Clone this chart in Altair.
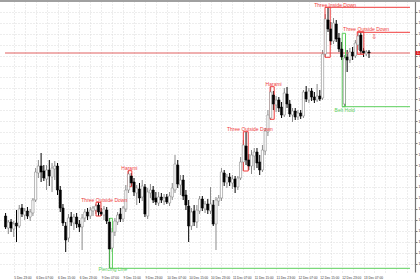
import altair as alt
import pandas as pd

# ---- hourly candles (price) ----
opens = [1.10920, 1.10860, 1.10890, 1.10855, 1.10885, 1.10870, 1.10960, 1.10925, 1.10945, 1.10915,
 1.10935, 1.11000, 1.11135, 1.11170, 1.11145, 1.11105, 1.11150, 1.11115, 1.11155, 1.11170,
 1.11050, 1.10960, 1.10870, 1.10810, 1.10915, 1.10885, 1.10915, 1.10880, 1.10865, 1.10910,
 1.10940, 1.10920, 1.10945, 1.10950, 1.10975, 1.10940, 1.10925, 1.10950, 1.10890, 1.10760,
 1.10840, 1.10890, 1.10930, 1.10905, 1.10955, 1.11050, 1.11120, 1.11090, 1.11035, 1.11055,
 1.11015, 1.11065, 1.10920, 1.11035, 1.11050, 1.11010, 1.10985, 1.11015, 1.10995, 1.11015,
 1.10985, 1.11015, 1.11050, 1.11175, 1.11075, 1.11100, 1.11025, 1.10970, 1.10870, 1.10945,
 1.10890, 1.10945, 1.11005, 1.10955, 1.10980, 1.10945, 1.10975, 1.10880, 1.10995, 1.11010,
 1.11135, 1.11085, 1.11115, 1.11085, 1.11105, 1.11065, 1.11110, 1.11190, 1.11270, 1.11200,
 1.11170, 1.11220, 1.11240, 1.11190, 1.11150, 1.11245, 1.11340, 1.11410, 1.11525, 1.11475,
 1.11500, 1.11465, 1.11425, 1.11530, 1.11480, 1.11425, 1.11445, 1.11415, 1.11435, 1.11420,
 1.11540, 1.11500, 1.11545, 1.11515, 1.11500, 1.11520, 1.11510, 1.11730, 1.11900, 1.11855,
 1.11795, 1.11880, 1.11810, 1.11755, 1.11480, 1.11715, 1.11700, 1.11740, 1.11720, 1.11775,
 1.11825, 1.11745, 1.11730, 1.11740]
highs = [1.10935, 1.10900, 1.10905, 1.10895, 1.10950, 1.10975, 1.10980, 1.10960, 1.10965, 1.10955,
 1.11010, 1.11160, 1.11200, 1.11235, 1.11175, 1.11175, 1.11200, 1.11185, 1.11195, 1.11185,
 1.11070, 1.10980, 1.10890, 1.10930, 1.10940, 1.10930, 1.10935, 1.10900, 1.10930, 1.10955,
 1.10960, 1.10965, 1.10970, 1.10980, 1.10990, 1.10960, 1.10970, 1.10965, 1.10910, 1.10860,
 1.10910, 1.10940, 1.10960, 1.10970, 1.11075, 1.11145, 1.11135, 1.11110, 1.11075, 1.11085,
 1.11100, 1.11080, 1.11060, 1.11080, 1.11070, 1.11040, 1.11040, 1.11035, 1.11030, 1.11030,
 1.11040, 1.11085, 1.11225, 1.11200, 1.11125, 1.11125, 1.11050, 1.11000, 1.10960, 1.10975,
 1.10975, 1.11020, 1.11020, 1.10995, 1.11005, 1.11065, 1.11000, 1.11015, 1.11025, 1.11160,
 1.11150, 1.11130, 1.11135, 1.11125, 1.11120, 1.11120, 1.11215, 1.11300, 1.11340, 1.11230,
 1.11250, 1.11260, 1.11260, 1.11225, 1.11275, 1.11360, 1.11450, 1.11565, 1.11545, 1.11520,
 1.11515, 1.11490, 1.11560, 1.11565, 1.11500, 1.11460, 1.11460, 1.11450, 1.11450, 1.11550,
 1.11570, 1.11560, 1.11560, 1.11540, 1.11580, 1.11550, 1.11750, 1.11930, 1.11960, 1.11890,
 1.11910, 1.11900, 1.11835, 1.11790, 1.11725, 1.11750, 1.11760, 1.11765, 1.11800, 1.11835,
 1.11840, 1.11760, 1.11750, 1.11750]
lows = [1.10855, 1.10830, 1.10840, 1.10815, 1.10790, 1.10860, 1.10915, 1.10900, 1.10905, 1.10895,
 1.10920, 1.10990, 1.11110, 1.11090, 1.11095, 1.11050, 1.11070, 1.11040, 1.11100, 1.11025,
 1.10940, 1.10870, 1.10740, 1.10790, 1.10870, 1.10850, 1.10860, 1.10840, 1.10750, 1.10890,
 1.10900, 1.10905, 1.10920, 1.10930, 1.10920, 1.10920, 1.10900, 1.10880, 1.10660, 1.10740,
 1.10820, 1.10875, 1.10890, 1.10890, 1.10940, 1.11035, 1.11070, 1.11020, 1.10975, 1.10985,
 1.10995, 1.10915, 1.10905, 1.11010, 1.10985, 1.10975, 1.10970, 1.10985, 1.10975, 1.10980,
 1.10970, 1.11000, 1.11035, 1.11060, 1.11025, 1.11000, 1.10950, 1.10790, 1.10850, 1.10870,
 1.10860, 1.10930, 1.10945, 1.10935, 1.10930, 1.10930, 1.10870, 1.10750, 1.10970, 1.10995,
 1.11070, 1.11060, 1.11070, 1.11055, 1.11035, 1.11050, 1.11100, 1.11145, 1.11175, 1.11150,
 1.11130, 1.11150, 1.11160, 1.11125, 1.11140, 1.11225, 1.11320, 1.11400, 1.11450, 1.11440,
 1.11440, 1.11410, 1.11415, 1.11460, 1.11415, 1.11390, 1.11400, 1.11400, 1.11405, 1.11410,
 1.11490, 1.11485, 1.11495, 1.11485, 1.11490, 1.11495, 1.11500, 1.11715, 1.11840, 1.11775,
 1.11780, 1.11790, 1.11740, 1.11700, 1.11465, 1.11640, 1.11685, 1.11700, 1.11710, 1.11750,
 1.11730, 1.11715, 1.11720, 1.11710]
closes = [1.10865, 1.10890, 1.10860, 1.10880, 1.10870, 1.10955, 1.10930, 1.10945, 1.10920, 1.10940,
 1.11000, 1.11140, 1.11170, 1.11140, 1.11110, 1.11150, 1.11120, 1.11160, 1.11170, 1.11050,
 1.10960, 1.10885, 1.10800, 1.10910, 1.10890, 1.10915, 1.10880, 1.10865, 1.10910, 1.10940,
 1.10920, 1.10950, 1.10960, 1.10970, 1.10940, 1.10930, 1.10955, 1.10895, 1.10755, 1.10840,
 1.10895, 1.10925, 1.10905, 1.10960, 1.11050, 1.11130, 1.11085, 1.11040, 1.11060, 1.11010,
 1.11070, 1.10930, 1.11040, 1.11050, 1.11000, 1.10990, 1.11015, 1.11000, 1.11010, 1.10990,
 1.11020, 1.11060, 1.11180, 1.11080, 1.11100, 1.11020, 1.10975, 1.10870, 1.10940, 1.10890,
 1.10950, 1.11005, 1.10960, 1.10980, 1.10950, 1.10980, 1.10880, 1.11000, 1.11010, 1.11140,
 1.11090, 1.11115, 1.11090, 1.11105, 1.11065, 1.11110, 1.11190, 1.11275, 1.11200, 1.11170,
 1.11225, 1.11240, 1.11185, 1.11150, 1.11250, 1.11345, 1.11425, 1.11540, 1.11480, 1.11500,
 1.11460, 1.11425, 1.11535, 1.11480, 1.11430, 1.11445, 1.11415, 1.11435, 1.11420, 1.11540,
 1.11505, 1.11545, 1.11515, 1.11500, 1.11520, 1.11505, 1.11730, 1.11905, 1.11855, 1.11795,
 1.11885, 1.11805, 1.11755, 1.11715, 1.11710, 1.11700, 1.11740, 1.11720, 1.11785, 1.11820,
 1.11745, 1.11735, 1.11740, 1.11735]

# ---- axis labels ----
x_labels = ["5 Dec 23:00", "6 Dec 07:00", "6 Dec 15:00", "6 Dec 23:00", "9 Dec 07:00",
            "9 Dec 15:00", "9 Dec 23:00", "10 Dec 07:00", "10 Dec 15:00", "10 Dec 23:00",
            "11 Dec 07:00", "11 Dec 15:00", "11 Dec 23:00", "12 Dec 07:00", "12 Dec 15:00",
            "12 Dec 23:00", "13 Dec 07:00"]
y_ticks = [1.119415, 1.118868, 1.11832, 1.117773, 1.117225, 1.116678, 1.11613, 1.115583,
           1.115035, 1.114488, 1.11394, 1.113393, 1.112845, 1.112298, 1.11175, 1.111203,
           1.110655, 1.110108, 1.10956, 1.109013, 1.108465, 1.107918, 1.10737, 1.106823]

# ---- candlestick patterns ----
pattern_names = ["Three Outside Down", "Piercing Line", "Harami", "Three Outside Down",
                 "Harami", "Three Inside Down", "Belt Hold", "Three Outside Down"]
pattern_kind = ["bear", "bull", "bear", "bear", "bear", "bear", "bull", "bear"]
box_start = [33.1, 38.1, 44.8, 87.0, 96.8, 116.9, 123.2, 128.7]
box_end = [34.9, 39.1, 46.2, 88.8, 98.3, 118.8, 124.4, 131.1]
box_top = [1.109885, 1.109085, 1.111465, 1.113415, 1.115665, 1.119635, 1.118335, 1.118415]
box_bottom = [1.1092, 1.106585, 1.110665, 1.11145, 1.114035, 1.117135, 1.114665, 1.117285]
label_x = [36.1, 39.25, 45.3, 89.4, 98.1, 120.6, 124.1, 131.9]
label_y = [1.109925, 1.10645, 1.111525, 1.11345, 1.1157, 1.119675, 1.114425, 1.11845]
# levels still active (extend to the right edge)
level_pattern = [1, 5, 6, 7]
level_price = [1.106585, 1.119635, 1.114665, 1.118385]
arrow_x = [134.9]
arrow_y = [1.11815]

X_DOM = [-0.214, 148.0]
Y_DOM = [1.1064, 1.11995]
RED = "#f03c3c"
GREEN = "#5ccf5c"
KIND_COL = {"bear": RED, "bull": GREEN}
FONT = "Liberation Sans"
GRID = "#dadada"

n = len(opens)
df = pd.DataFrame({"i": list(range(n)), "open": opens, "high": highs,
                   "low": lows, "close": closes})
up = [c >= o for o, c in zip(opens, closes)]
df["fill"] = ["#ffffff" if u else "#000000" for u in up]
df["edge"] = ["#8a8a8a" if u else "#000000" for u in up]

pat = pd.DataFrame({"name": pattern_names, "x0": box_start, "x1": box_end,
                    "top": box_top, "bottom": box_bottom, "lx": label_x, "ly": label_y,
                    "col": [KIND_COL[k] for k in pattern_kind]})
lev = pd.DataFrame({"x0": [box_start[p] for p in level_pattern],
                    "x1": [X_DOM[1]] * len(level_pattern),
                    "y": level_price,
                    "col": [KIND_COL[pattern_kind[p]] for p in level_pattern]})
arr = pd.DataFrame({"x": arrow_x, "y": arrow_y})
last = pd.DataFrame({"p": [closes[-1]], "t": [f"{closes[-1]:.5f}"],
                     "x0": [X_DOM[0]], "x1": [X_DOM[1]]})

xs = alt.Scale(domain=X_DOM, nice=False, zero=False)
ys = alt.Scale(domain=Y_DOM, nice=False, zero=False)

grid_idx = list(range(3, 148, 4))
lab_arr = []
for g in grid_idx:
    k, r = divmod(g - 3, 8)
    lab_arr.append(x_labels[k] if (r == 0 and k < len(x_labels)) else "")
label_expr = "[" + ",".join("'" + s + "'" for s in lab_arr) + "][round((datum.value - 3) / 4)]"

x_axis = alt.Axis(values=grid_idx, labelExpr=label_expr, grid=True, ticks=False, domain=False,
                  labelAlign="left", labelBaseline="top", labelPadding=3, labelFontSize=3.2,
                  labelFont=FONT, labelColor="#333333", title=None, labelOverlap=False,
                  labelFlush=False, gridColor=GRID, gridDash=[1, 2], gridWidth=1)
y_axis = alt.Axis(orient="right", values=y_ticks, format=".5f", grid=True, ticks=True,
                  tickSize=2, tickColor="#777777", domain=True, domainColor="#777777",
                  domainWidth=1.2,
                  labelAlign="left", labelBaseline="middle", labelPadding=1, labelFontSize=3.4,
                  labelFont=FONT, labelColor="#333333", title=None, labelOverlap=False,
                  labelFlush=False, gridColor=GRID, gridDash=[1, 2], gridWidth=1)


def X(f):
    return alt.X(f, scale=xs, axis=x_axis, title=None)


def Y(f):
    return alt.Y(f, scale=ys, axis=y_axis, title=None)


wicks = alt.Chart(df).mark_rule(strokeWidth=1).encode(
    x=X("i:Q"), y=Y("low:Q"), y2="high:Q",
    color=alt.Color("edge:N", scale=None),
)
bodies = alt.Chart(df).mark_bar(size=2.2, strokeWidth=0.6).encode(
    x=X("i:Q"), y=Y("open:Q"), y2="close:Q",
    fill=alt.Fill("fill:N", scale=None),
    stroke=alt.Stroke("edge:N", scale=None),
)
price_line = alt.Chart(last).mark_rule(color="#e06060", strokeWidth=1).encode(
    x=X("x0:Q"), x2="x1:Q", y=Y("p:Q"))
levels = alt.Chart(lev).mark_rule(strokeWidth=1).encode(
    x=X("x0:Q"), x2="x1:Q", y=Y("y:Q"),
    color=alt.Color("col:N", scale=None))
boxes = alt.Chart(pat).mark_rect(filled=False, strokeWidth=1).encode(
    x=X("x0:Q"), x2="x1:Q", y=Y("top:Q"), y2="bottom:Q",
    stroke=alt.Stroke("col:N", scale=None))
labels = alt.Chart(pat).mark_text(fontSize=5, font=FONT, align="center",
                                  baseline="alphabetic").encode(
    x=X("lx:Q"), y=Y("ly:Q"), text="name:N",
    color=alt.Color("col:N", scale=None))
arrow = alt.Chart(arr).mark_text(text="⇩", fontSize=7, font="DejaVu Sans", color=RED,
                                 baseline="middle", align="center").encode(
    x=X("x:Q"), y=Y("y:Q"))
tag = alt.Chart(last).mark_rect(color="#e02020", yOffset=-2, y2Offset=2).encode(
    x=alt.value(415.5), x2=alt.value(450), y=Y("p:Q"), y2="p:Q")
tag_text = alt.Chart(last).mark_text(fontSize=3.4, font=FONT, color="white", align="left",
                                     baseline="middle").encode(
    x=alt.value(417), y=Y("p:Q"), text="t:N")
top_border = alt.Chart(last).mark_rule(color="#a0a0a0", strokeWidth=2).encode(
    x=alt.value(0), x2=alt.value(420), y=alt.value(0))

chart = alt.layer(
    wicks, price_line, levels, boxes, bodies, labels, arrow, tag, tag_text, top_border
).properties(
    width=415, height=271, autosize="none",
    padding={"left": 0, "top": 1, "right": 5, "bottom": 8},
    background="white",
).configure_view(stroke=None)

chart.save("out.html", embed_options={"renderer": "svg", "actions": False})
